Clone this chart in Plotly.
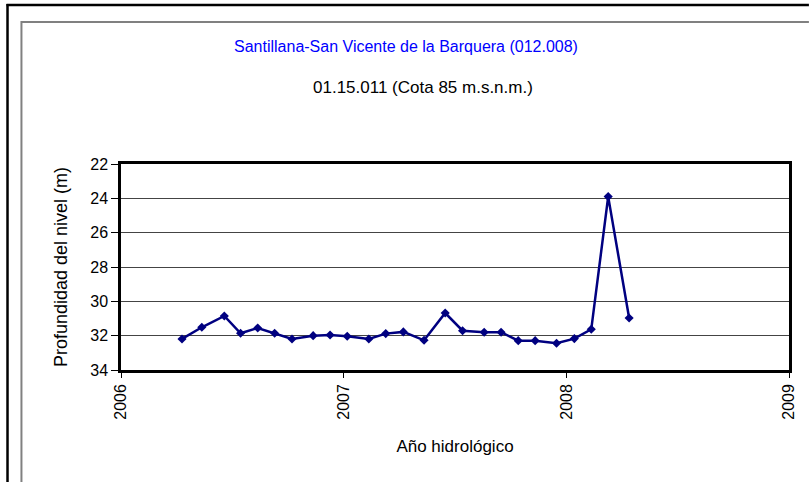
import plotly.graph_objects as go

# Data (decimal year, depth in m)
years = [2006.274, 2006.363, 2006.464, 2006.537, 2006.614, 2006.690, 2006.768,
         2006.863, 2006.939, 2007.016, 2007.113, 2007.189, 2007.268, 2007.361,
         2007.456, 2007.534, 2007.631, 2007.707, 2007.784, 2007.860, 2007.956,
         2008.036, 2008.112, 2008.188, 2008.282]
depth = [32.19, 31.51, 30.85, 31.86, 31.55, 31.86, 32.19,
         32.00, 31.96, 32.03, 32.19, 31.88, 31.78, 32.27,
         30.68, 31.71, 31.80, 31.80, 32.29, 32.29, 32.44,
         32.17, 31.63, 23.90, 30.97]
x_ticks = [2006, 2007, 2008, 2009]
y_ticks = [22, 24, 26, 28, 30, 32, 34]

title = "Santillana-San Vicente de la Barquera (012.008)"
subtitle = "01.15.011 (Cota 85 m.s.n.m.)"

W, H = 809, 482
L, R, T, B = 121, 17, 164, 112
pw, ph = W - L - R, H - T - B

def px(x):
    return (x - L) / pw

def py(y):
    return (H - B - y) / ph

fig = go.Figure()
fig.add_trace(go.Scatter(
    x=years, y=depth, mode="lines+markers",
    line=dict(color="#000080", width=2.5),
    marker=dict(symbol="diamond", size=7, color="#000080"),
    showlegend=False, hoverinfo="x+y"))

font = "Liberation Sans, Arial, sans-serif"
fig.update_layout(
    width=W, height=H,
    margin=dict(l=L, r=R, t=T, b=B),
    paper_bgcolor="white", plot_bgcolor="white",
    font=dict(family=font, size=16, color="black"),
    xaxis=dict(range=[2006, 2009], tickvals=x_ticks, ticktext=[str(v) for v in x_ticks],
               tickangle=-90, ticks="outside", ticklen=5, tickcolor="black",
               showgrid=False, zeroline=False, showline=True, linecolor="black",
               linewidth=2.5, mirror=True,
               title=dict(text="Año hidrológico", standoff=22, font=dict(size=17))),
    yaxis=dict(range=[34, 22], tickvals=y_ticks, ticks="outside", ticklen=7,
               tickcolor="black", showgrid=True, gridcolor="#444444", gridwidth=1,
               zeroline=False, showline=True, linecolor="black", linewidth=2.5,
               mirror=True,
               title=dict(text="Profundidad del nivel (m)", standoff=18, font=dict(size=18))),
)

# Titles
fig.add_annotation(text=title, x=px(407), y=py(46), xref="paper", yref="paper",
                   xanchor="center", yanchor="middle",
                   showarrow=False, font=dict(size=16, color="#0000FF"))
fig.add_annotation(text=subtitle, x=px(424), y=py(88), xref="paper", yref="paper",
                   xanchor="center", yanchor="middle",
                   showarrow=False, font=dict(size=17, color="black"))

# Frames
fig.add_shape(type="line", xref="paper", yref="paper", x0=px(6), x1=px(812),
              y0=py(5), y1=py(5), line=dict(color="black", width=2.5))
fig.add_shape(type="line", xref="paper", yref="paper", x0=px(7), x1=px(7),
              y0=py(4), y1=py(490), line=dict(color="black", width=2.5))
fig.add_shape(type="line", xref="paper", yref="paper", x0=px(21), x1=px(812),
              y0=py(22), y1=py(22), line=dict(color="#808080", width=2))
fig.add_shape(type="line", xref="paper", yref="paper", x0=px(21), x1=px(21),
              y0=py(21), y1=py(490), line=dict(color="#808080", width=2))

fig.write_html("out.html", config={"displayModeBar": False},
               post_script="document.body.style.margin='0';")
